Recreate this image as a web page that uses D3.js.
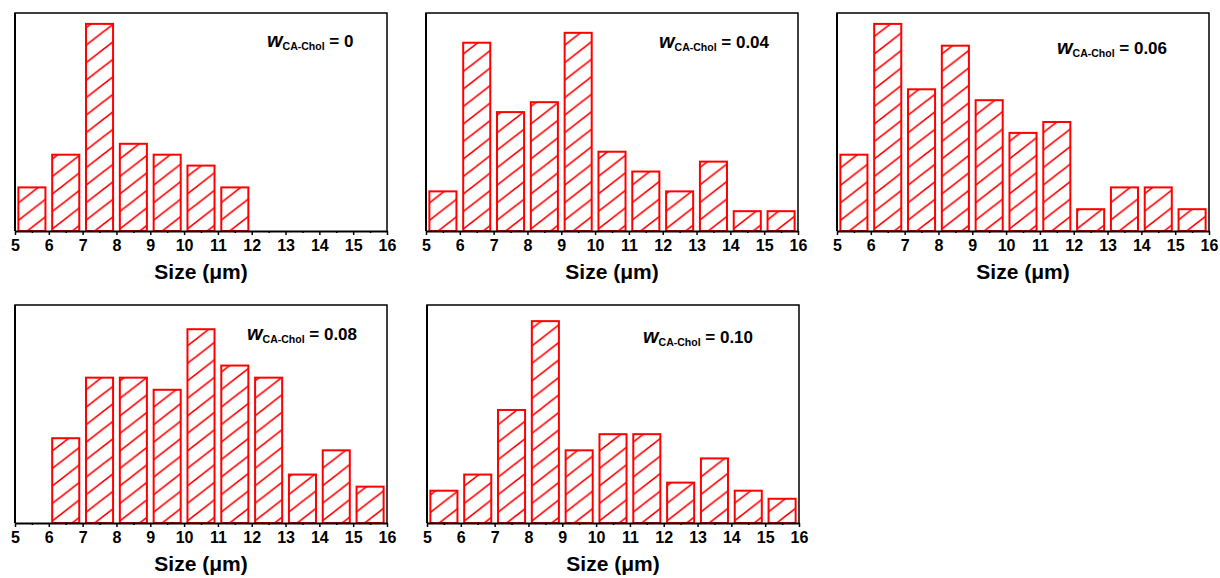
<!DOCTYPE html>
<html lang="en">

<head>
    <meta charset="UTF-8">
    <title>Size distributions</title>
    <style>
    body {
        margin: 0;
        background: #fff;
    }

    .axis path,
    .axis line {
        fill: none;
        stroke: black;
    }

    .axis path {
        stroke-width: 2;
    }

    .axis .tick line {
        stroke-width: 1.5;
    }

    .axis text {
        font-family: "Liberation Sans", Arial, sans-serif;
        font-weight: bold;
        font-size: 16px;
        fill: black;
    }

    .frame {
        fill: none;
        stroke: black;
        stroke-width: 1.5;
    }

    .bar {
        stroke: #ff0000;
        stroke-width: 2;
    }

    .title,
    .label {
        font-family: "Liberation Sans", Arial, sans-serif;
        font-weight: bold;
        fill: black;
    }
    </style>
</head>

<body>
    <div id="chart"></div>
    <script src="https://d3js.org/d3.v7.min.js"></script>
    <script>
    var width = 1220;
    var height = 578;

    // bins (left edge of each 1 um bin)
    var bins = [5, 6, 7, 8, 9, 10, 11, 12, 13, 14, 15];
    var xTicks = [5, 6, 7, 8, 9, 10, 11, 12, 13, 14, 15, 16];
    var labels = ['0', '0.04', '0.06', '0.08', '0.10'];
    // frequencies
    var w000 = [4, 7, 19, 8, 7, 6, 4, 0, 0, 0, 0];
    var w004 = [4, 19, 12, 13, 20, 8, 6, 4, 7, 2, 2];
    var w006 = [7, 19, 13, 17, 12, 9, 10, 2, 4, 4, 2];
    var w008 = [0, 7, 12, 12, 11, 16, 13, 12, 4, 6, 3];
    var w010 = [4, 6, 14, 25, 9, 11, 11, 5, 8, 4, 3];
    var series = [w000, w004, w006, w008, w010];
    var yMax = [20, 22, 20, 18, 27];

    // panel frames
    var pw = 372, ph = 218;
    var panelX = [15, 426, 837, 15, 427];
    var panelY = [13, 13, 13, 305, 305];
    // label spots inside each frame
    var labelPos = [[252, 34], [233, 35], [220, 41], [232, 35], [216, 38]];

    var svg = d3.select('#chart').append('svg').attr('width', width).attr('height', height);

    // hatch pattern "/"
    var hw = 22.5, hh = 17.5;
    var pat = svg.append('defs').append('pattern')
        .attr('id', 'hatch')
        .attr('patternUnits', 'userSpaceOnUse')
        .attr('width', hw)
        .attr('height', hh);
    pat.append('rect').attr('width', hw).attr('height', hh).attr('fill', 'white');
    [-1, 0, 1].forEach(function(k) {
        pat.append('line')
            .attr('x1', -hw).attr('y1', 2 * hh + k * hh)
            .attr('x2', 2 * hw).attr('y2', -hh + k * hh)
            .attr('stroke', '#ff0000')
            .attr('stroke-width', 1.7);
    });

    series.forEach(function(vals, p) {
        var g = svg.append('g')
            .attr('transform', 'translate(' + panelX[p] + ',' + panelY[p] + ')');

        var xScale = d3.scaleLinear().domain([5, 16]).range([0, pw]);
        var yScale = d3.scaleLinear().domain([0, yMax[p]]).range([ph, 0]);

        // top / right / left frame
        g.append('path')
            .attr('class', 'frame')
            .attr('d', 'M0,' + ph + 'V0H' + pw + 'V' + ph);
        g.append('line')
            .attr('x1', 0).attr('x2', 0).attr('y1', 0).attr('y2', ph)
            .attr('stroke', 'black').attr('stroke-width', 2);

        // bars (empty bins skipped)
        var barData = bins.map(function(b, i) { return { bin: b, value: vals[i] }; })
            .filter(function(d) { return d.value > 0; });
        g.selectAll('rect.bar')
            .data(barData)
            .enter()
            .append('rect')
            .attr('class', 'bar')
            .attr('x', function(d) { return xScale(d.bin + 0.1); })
            .attr('y', function(d) { return yScale(d.value); })
            .attr('width', function(d) { return xScale(d.bin + 0.9) - xScale(d.bin + 0.1); })
            .attr('height', function(d) { return ph - yScale(d.value); })
            .attr('fill', 'url(#hatch)');

        // minor ticks
        g.append('g')
            .attr('class', 'axis')
            .attr('transform', 'translate(0,' + ph + ')')
            .call(d3.axisBottom(xScale).tickValues(bins.map(function(b) { return b + 0.5; }))
                .tickSize(2).tickSizeOuter(0).tickFormat(''))
            .select('.domain').remove();
        // major ticks
        g.append('g')
            .attr('class', 'axis')
            .attr('transform', 'translate(0,' + ph + ')')
            .call(d3.axisBottom(xScale).tickValues(xTicks).tickSize(4).tickSizeOuter(0).tickPadding(5)
                .tickFormat(d3.format('d')));

        // axis title
        g.append('text')
            .attr('class', 'title')
            .attr('x', pw / 2)
            .attr('y', ph + 48)
            .attr('text-anchor', 'middle')
            .attr('font-size', 21)
            .text('Size (μm)');

        // w label
        var lab = g.append('text')
            .attr('class', 'label')
            .attr('x', labelPos[p][0])
            .attr('y', labelPos[p][1])
            .attr('font-size', 17);
        lab.append('tspan').attr('font-style', 'italic').attr('font-size', 20).text('w');
        lab.append('tspan').attr('font-size', 10.5).attr('dy', 3).text('CA-Chol');
        lab.append('tspan').attr('font-size', 17).attr('dy', -3).text(' = ' + labels[p]);
    });
    </script>
</body>

</html>
